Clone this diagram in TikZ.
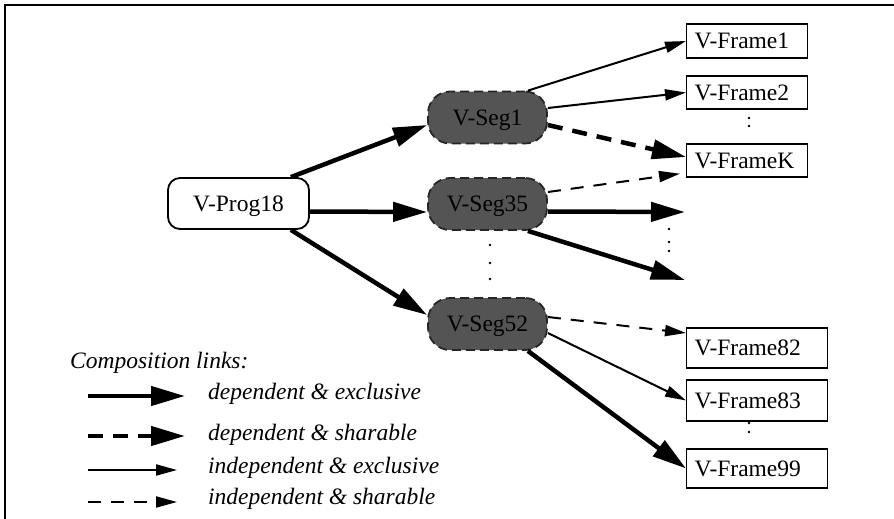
\documentclass[tikz,border=0pt]{standalone}
\usepackage{fontspec}
\setmainfont{Liberation Serif}
\usetikzlibrary{arrows.meta}
\begin{document}
\begin{tikzpicture}[x=1pt,y=-1pt,
  every node/.style={font=\fontsize{23.5}{28}\selectfont},
  thickarrow/.style={line width=4.5pt,-{Triangle[length=34pt,width=19pt]}},
  thinarrow/.style={line width=2pt,-{Triangle[length=21pt,width=11pt]}},
  thickdash/.style={thickarrow,dash pattern=on 15pt off 10pt},
  thindash/.style={thinarrow,dash pattern=on 13pt off 10pt},
  prog/.style={draw,line width=1.8pt,rounded corners=12pt,minimum width=141pt,minimum height=51pt,inner sep=0pt,text depth=0pt,fill=white},
  seg/.style={draw=black!85,fill=black!67,line width=1.8pt,dash pattern=on 9pt off 5pt,rounded corners=22pt,minimum width=119pt,minimum height=52pt,inner sep=0pt,text depth=0pt},
  vframe/.style={draw,line width=1.4pt,inner xsep=8pt,inner ysep=0pt,text depth=0pt,align=left,anchor=west,text width=105pt},
  wframe/.style={vframe,text width=125pt},
  legtext/.style={anchor=base west,inner sep=0pt,font=\fontsize{23.5}{28}\selectfont\itshape},
  dotmark/.style={fill=black}
]
\useasboundingbox (0,0) rectangle (894,519);
% border
\draw[line width=2pt] (4.5,519) -- (4.5,5) -- (894,5);

% nodes
\node[prog] (prog) at (238.5,203.5) {V-Prog18};
\node[seg] (seg1) at (487.5,117.5) {V-Seg1};
\node[seg] (seg35) at (487.5,204) {V-Seg35};
\node[seg] (seg52) at (487.5,324) {V-Seg52};

\node[vframe,minimum height=34pt] (f1) at (686,41) {V-Frame1};
\node[vframe,minimum height=33pt] (f2) at (686,92.5) {V-Frame2};
\node[vframe,minimum height=33pt] (fk) at (686,160.5) {V-FrameK};
\node[wframe,minimum height=40pt] (f82) at (686,348) {V-Frame82};
\node[wframe,minimum height=41pt] (f83) at (686,400.5) {V-Frame83};
\node[wframe,minimum height=39pt] (f99) at (686,468.5) {V-Frame99};

\coordinate (e1) at (685,212);
\coordinate (e2) at (685,280);

% connectors from V-Prog18
\draw[thickarrow] ([xshift=-19pt]prog.north east) -- ([yshift=-7.5pt]seg1.west);
\draw[thickarrow] ([yshift=-8pt]prog.east) -- ([yshift=-8pt]seg35.west);
\draw[thickarrow] ([xshift=-19pt]prog.south east) -- ([yshift=9pt]seg52.west);

% from V-Seg1
\draw[thinarrow] ([xshift=-20pt]seg1.north east) -- (f1.west);
\draw[thinarrow] ([yshift=9.5pt]seg1.east) -- (f2.west);
\draw[thickdash] ([yshift=-7.5pt]seg1.east) -- ([yshift=3.5pt]fk.west);

% from V-Seg35
\draw[thindash] ([yshift=12pt]seg35.east) -- ([shift={(-6pt,4pt)}]fk.south west);
\draw[thickarrow] ([yshift=-7.5pt]seg35.east) -- (e1);
\draw[thickarrow] ([xshift=-20pt]seg35.south east) -- (e2);

% from V-Seg52
\draw[thindash] ([yshift=7pt]seg52.east) -- ([yshift=15pt]f82.west);
\draw[thinarrow] ([yshift=-9pt]seg52.east) -- (f83.west);
\draw[thickarrow] ([xshift=-20pt]seg52.south east) -- (f99.west);

% ellipsis dots
\fill[dotmark] (490,245) circle (1.4pt);
\fill[dotmark] (490,263) circle (1.4pt);
\fill[dotmark] (490,279) circle (1.4pt);
\fill[dotmark] (669,229) circle (1.4pt);
\fill[dotmark] (669,242) circle (1.4pt);
\fill[dotmark] (669,251) circle (1.4pt);
\fill[dotmark] (749,118) circle (1.4pt);
\fill[dotmark] (749,126) circle (1.4pt);
\fill[dotmark] (749,423) circle (1.4pt);
\fill[dotmark] (749,432) circle (1.4pt);

% legend
\node[legtext] (lhead) at (70,368) {Composition links:};
\coordinate (a1s) at (88,396); \coordinate (a1e) at (185,396);
\coordinate (a2s) at (88,436); \coordinate (a2e) at (185,436);
\coordinate (a3s) at (88,470); \coordinate (a3e) at (177,470);
\coordinate (a4s) at (88,502); \coordinate (a4e) at (177,502);
\draw[thickarrow] (a1s) -- (a1e);
\draw[thickdash] (a2s) -- (a2e);
\draw[thinarrow] (a3s) -- (a3e);
\draw[thindash] (a4s) -- (a4e);
\node[legtext] (l1) at (208,399) {dependent \& exclusive};
\node[legtext] (l2) at (208,440) {dependent \& sharable};
\node[legtext] (l3) at (208,473) {independent \& exclusive};
\node[legtext] (l4) at (208,504) {independent \& sharable};
\end{tikzpicture}
\end{document}
